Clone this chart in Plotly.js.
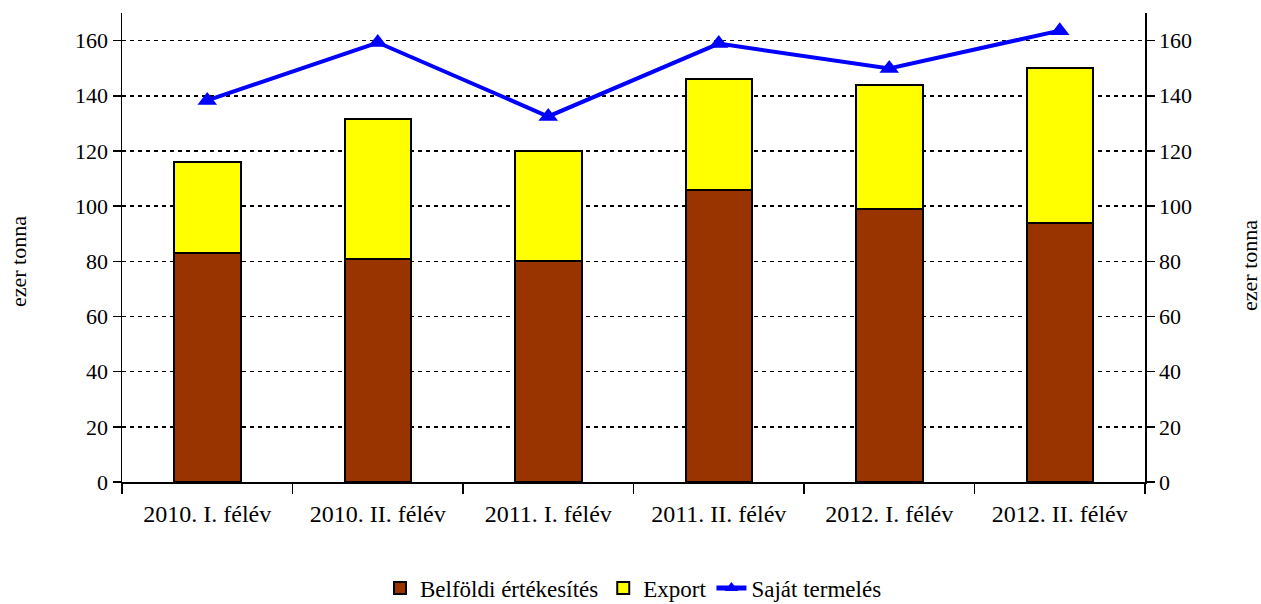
<!DOCTYPE html>
<html>
<head>
<meta charset="utf-8">
<script src="https://cdn.plot.ly/plotly-3.0.1.min.js"></script>
<style>html,body{margin:0;padding:0;background:#fff;}#chart{width:1261px;height:604px;}</style>
</head>
<body>
<div id="chart"></div>
<script>
var categories = ["2010. I. félév", "2010. II. félév", "2011. I. félév", "2011. II. félév", "2012. I. félév", "2012. II. félév"];
var belfoldi = [83, 81, 80, 106, 99, 94];
var exportVals = [33, 50.7, 40, 40, 45, 56];
var sajat = [138.3, 159.3, 132.5, 158.9, 149.9, 163.6];
var yTicks = [0, 20, 40, 60, 80, 100, 120, 140, 160];
var yTitle = "ezer tonna";

var fontFam = "'Liberation Serif', 'Times New Roman', serif";

var traces = [
  {type: "bar", name: "Belföldi értékesítés", x: categories, y: belfoldi,
   marker: {color: "#993300", line: {color: "#000", width: 2}}, width: 0.39},
  {type: "bar", name: "Export", x: categories, y: exportVals,
   marker: {color: "#FFFF00", line: {color: "#000", width: 2}}, width: 0.39},
  {type: "scatter", mode: "lines+markers", name: "Saját termelés", x: categories, y: sajat,
   yaxis: "y2",
   line: {color: "#0000FF", width: 4},
   marker: {symbol: "triangle-up", size: 17, color: "#0000FF"}}
];

var yaxisCommon = {
  range: [0, 170], tickvals: yTicks, ticks: "outside", ticklen: 8, tickwidth: 1.5, tickcolor: "#000",
  showline: true, linecolor: "#000", linewidth: 1.5, zeroline: false,
  tickfont: {family: fontFam, size: 22, color: "#000"}, fixedrange: true
};

var layout = {
  width: 1261, height: 604,
  margin: {l: 122, r: 116, t: 13, b: 122, autoexpand: false},
  paper_bgcolor: "#fff", plot_bgcolor: "#fff",
  barmode: "stack",
  showlegend: true,
  font: {family: fontFam, color: "#000"},
  xaxis: {
    type: "category", tickson: "boundaries", ticks: "outside", ticklen: 10, tickwidth: 1.5, tickcolor: "#000",
    showline: true, linecolor: "#000", linewidth: 1.5, showgrid: false, zeroline: false,
    tickfont: {family: fontFam, size: 24, color: "#000"}, range: [-0.5, 5.5],
    ticklabelstandoff: 10
  },
  yaxis: Object.assign({}, yaxisCommon, {
    showgrid: true, gridcolor: "#000", gridwidth: 1.5, griddash: "4px,4px"
  }),
  yaxis2: Object.assign({}, yaxisCommon, {
    overlaying: "y", side: "right", showgrid: false
  }),
  annotations: [
    {text: yTitle, xref: "paper", yref: "paper", x: -0.1017, y: 0.471, xanchor: "center", yanchor: "middle",
     textangle: -90, showarrow: false, font: {family: fontFam, size: 22, color: "#000"}},
    {text: yTitle, xref: "paper", yref: "paper", x: 1.1026, y: 0.4627, xanchor: "center", yanchor: "middle",
     textangle: -90, showarrow: false, font: {family: fontFam, size: 22, color: "#000"}}
  ],
  legend: {
    orientation: "h", x: 0.5, xanchor: "center", y: -0.226, yanchor: "middle",
    font: {family: fontFam, size: 23, color: "#000"}, traceorder: "normal",
    itemsizing: "constant", itemwidth: 30
  }
};

Plotly.newPlot("chart", traces, layout, {displayModeBar: false, staticPlot: true});
</script>
</body>
</html>
